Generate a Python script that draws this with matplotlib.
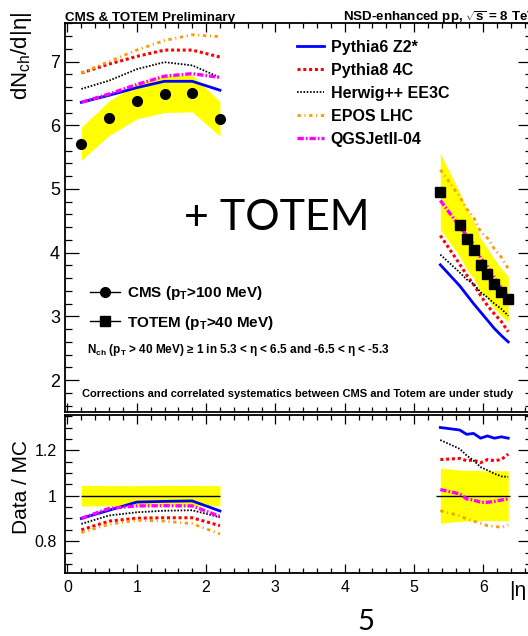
import matplotlib
matplotlib.use('Agg')
import matplotlib.pyplot as plt
from matplotlib.lines import Line2D
from matplotlib.ticker import MultipleLocator, FuncFormatter

plt.rcParams['font.family'] = ['Liberation Sans', 'DejaVu Sans']
plt.rcParams['mathtext.fontset'] = 'custom'
plt.rcParams['mathtext.rm'] = 'Liberation Sans'
plt.rcParams['mathtext.it'] = 'Liberation Sans:italic'
plt.rcParams['mathtext.bf'] = 'Liberation Sans:bold'

BOLD = ['Liberation Sans Narrow', 'Liberation Sans', 'DejaVu Sans']

# CMS central region (|eta| < 2.2)
eta_cms = [0.2, 0.6, 1.0, 1.4, 1.8, 2.2]
cms = [5.71, 6.11, 6.38, 6.49, 6.50, 6.10]
cms_sys = [0.26, 0.27, 0.28, 0.29, 0.29, 0.27]

# TOTEM T2 forward region
eta_totem = [5.38, 5.66, 5.76, 5.86, 5.96, 6.06, 6.16, 6.26, 6.36]
totem = [4.96, 4.44, 4.21, 4.05, 3.81, 3.67, 3.51, 3.38, 3.27]
totem_sys = [0.60, 0.50, 0.47, 0.45, 0.42, 0.40, 0.39, 0.37, 0.36]

# generator predictions, central
py6_cms = [6.36, 6.47, 6.59, 6.69, 6.69, 6.55]
py8_cms = [6.82, 6.96, 7.08, 7.18, 7.18, 7.07]
hw_cms = [6.57, 6.70, 6.88, 6.99, 6.94, 6.75]
epos_cms = [6.82, 7.00, 7.18, 7.33, 7.42, 7.39]
qgs_cms = [6.36, 6.49, 6.64, 6.77, 6.81, 6.75]

# generator predictions, forward
py6_totem = [3.81, 3.48, 3.34, 3.20, 3.07, 2.94, 2.81, 2.70, 2.60]
py8_totem = [4.27, 3.82, 3.65, 3.50, 3.33, 3.17, 3.04, 2.92, 2.76]
hw_totem = [3.97, 3.69, 3.58, 3.51, 3.38, 3.30, 3.20, 3.12, 3.01]
epos_totem = [5.30, 4.88, 4.69, 4.56, 4.33, 4.23, 4.06, 3.93, 3.75]
qgs_totem = [4.82, 4.41, 4.27, 4.13, 3.92, 3.78, 3.60, 3.45, 3.31]

# data / MC
py6_r_cms = [0.900, 0.936, 0.972, 0.975, 0.977, 0.933]
py8_r_cms = [0.850, 0.888, 0.901, 0.903, 0.903, 0.868]
hw_r_cms = [0.876, 0.913, 0.927, 0.934, 0.936, 0.905]
epos_r_cms = [0.838, 0.874, 0.892, 0.888, 0.877, 0.832]
qgs_r_cms = [0.900, 0.944, 0.955, 0.956, 0.955, 0.909]

py6_r_totem = [1.300, 1.289, 1.270, 1.274, 1.253, 1.263, 1.253, 1.259, 1.253]
py8_r_totem = [1.159, 1.164, 1.154, 1.157, 1.145, 1.159, 1.154, 1.159, 1.183]
hw_r_totem = [1.245, 1.206, 1.177, 1.155, 1.126, 1.112, 1.097, 1.085, 1.083]
epos_r_totem = [0.934, 0.912, 0.898, 0.888, 0.879, 0.868, 0.865, 0.861, 0.871]
qgs_r_totem = [1.027, 1.008, 0.986, 0.981, 0.971, 0.971, 0.975, 0.981, 0.986]

labels = ['Pythia6 Z2*', 'Pythia8 4C', 'Herwig++ EE3C', 'EPOS LHC', 'QGSJetII-04']
styles = [
    dict(color='#0000ff', lw=2.0, ls='-'),
    dict(color='#ff0000', lw=2.2, ls=(0, (1.0, 0.9))),
    dict(color='black', lw=1.3, ls=(0, (0.9, 0.9))),
    dict(color='#ff9900', lw=2.0, ls=(0, (1.2, 1.3, 0.4, 1.3))),
    dict(color='#ff00ff', lw=2.4, ls=(0, (1.9, 0.6, 0.5, 0.6))),
]

W, H = 528, 636


def box(x0, y0, x1, y1):
    return [x0 / W, 1 - y1 / H, (x1 - x0) / W, (y1 - y0) / H]


fig = plt.figure(figsize=(W / 100, H / 100), dpi=100)
ax1 = fig.add_axes(box(65.4, 23.3, 531.8, 412))
ax2 = fig.add_axes(box(65.4, 415, 531.8, 573))

# top panel: dN/deta
ax1.fill_between(eta_cms, [c - s for c, s in zip(cms, cms_sys)],
                 [c + s for c, s in zip(cms, cms_sys)], color='#ffff00', lw=0, zorder=1)
ax1.fill_between(eta_totem, [t - s for t, s in zip(totem, totem_sys)],
                 [t + s for t, s in zip(totem, totem_sys)], color='#ffff00', lw=0, zorder=1)

mc_cms = [py6_cms, py8_cms, hw_cms, epos_cms, qgs_cms]
mc_totem = [py6_totem, py8_totem, hw_totem, epos_totem, qgs_totem]
handles = []
for lab, st, yc, yt in zip(labels, styles, mc_cms, mc_totem):
    h, = ax1.plot(eta_cms, yc, zorder=3, label=lab, **st)
    ax1.plot(eta_totem, yt, zorder=3, **st)
    handles.append(h)

ax1.plot(eta_cms, cms, 'o', color='black', ms=7, zorder=5)
ax1.plot(eta_totem, totem, 's', color='black', ms=6.5, zorder=5)

ax1.set_xlim(-0.03, 6.7)
ax1.set_ylim(1.5, 7.6)

leg1 = ax1.legend(handles=handles, loc='upper left', bbox_to_anchor=(297 / W, 1 - 40 / H),
                  bbox_transform=fig.transFigure, frameon=False, borderpad=0, borderaxespad=0,
                  handlelength=1.7, handletextpad=0.42, labelspacing=0.5,
                  prop=dict(family=BOLD, weight='bold', size=11.5))
ax1.add_artist(leg1)

data_handles = [Line2D([], [], color='black', lw=1, marker='o', ms=7),
                Line2D([], [], color='black', lw=1, marker='s', ms=6.5)]
ax1.legend(handles=data_handles,
           labels=['CMS (p$_{\\mathbf{T}}$>100 MeV)', 'TOTEM (p$_{\\mathbf{T}}$>40 MeV)'],
           loc='upper left', bbox_to_anchor=(90 / W, 1 - 284.5 / H),
           bbox_transform=fig.transFigure, frameon=False, borderpad=0, borderaxespad=0,
           handlelength=1.95, handletextpad=0.45, labelspacing=0.72, numpoints=1,
           prop=dict(family=BOLD, weight='bold', size=11))

# bottom panel: ratios
ax2.fill_between(eta_cms, [1 - s / c for c, s in zip(cms, cms_sys)],
                 [1 + s / c for c, s in zip(cms, cms_sys)], color='#ffff00', lw=0, zorder=1)
ax2.fill_between(eta_totem, [1 - s / t for t, s in zip(totem, totem_sys)],
                 [1 + s / t for t, s in zip(totem, totem_sys)], color='#ffff00', lw=0, zorder=1)
ax2.hlines(1, eta_cms[0], eta_cms[-1], color='black', lw=1, zorder=2)
ax2.hlines(1, 5.32, 6.38, color='black', lw=1, zorder=2)

r_cms = [py6_r_cms, py8_r_cms, hw_r_cms, epos_r_cms, qgs_r_cms]
r_totem = [py6_r_totem, py8_r_totem, hw_r_totem, epos_r_totem, qgs_r_totem]
for st, rc, rt in zip(styles, r_cms, r_totem):
    ax2.plot(eta_cms, rc, zorder=3, **st)
    ax2.plot(eta_totem, rt, zorder=3, **st)

ax2.set_xlim(-0.03, 6.7)
ax2.set_ylim(0.66, 1.355)

for ax in (ax1, ax2):
    ax.xaxis.set_major_locator(MultipleLocator(1))
    ax.xaxis.set_minor_locator(MultipleLocator(0.2))
    ax.tick_params(which='both', direction='in', top=True, right=True, width=0.9)
    ax.tick_params(axis='x', which='major', length=6.7, pad=5, labelsize=11.5)
    ax.tick_params(axis='x', which='minor', length=3.6)
    ax.tick_params(axis='y', which='major', length=10)
    ax.tick_params(axis='y', which='minor', length=5)
    for sp in ax.spines.values():
        sp.set_linewidth(1.3)

ax1.yaxis.set_major_locator(MultipleLocator(1))
ax1.yaxis.set_minor_locator(MultipleLocator(0.2))
ax1.tick_params(axis='x', labelbottom=False)
ax1.tick_params(axis='y', labelsize=13, pad=4)

ax2.yaxis.set_major_locator(MultipleLocator(0.2))
ax2.yaxis.set_minor_locator(MultipleLocator(0.05))
ax2.yaxis.set_major_formatter(FuncFormatter(lambda v, p: '%g' % round(v, 2)))
ax2.tick_params(axis='y', labelsize=11.5, pad=6)

# labels and annotations
fig.text(22 / W, 1 - 12 / H, 'dN$_{\\mathrm{ch}}$/d|η|', rotation=90, ha='center', va='top', fontsize=16)
fig.text(22 / W, 1 - 487 / H, 'Data / MC', rotation=90, ha='center', va='center', fontsize=15)
fig.text(509 / W, 1 - 591 / H, '|η|', ha='left', va='center', fontsize=15)

fig.text(65 / W, 1 - 20.7 / H, 'CMS & TOTEM Preliminary', family=BOLD, weight='bold',
         fontsize=9.6, va='baseline')
fig.text(343 / W, 1 - 20.7 / H, 'NSD-enhanced pp, $\\mathbf{\\sqrt{s}}$ = 8 TeV', family=BOLD,
         weight='bold', fontsize=9.6, va='baseline')

ax1.text(87 / W, 1 - 350 / H,
         'N$_{\\mathbf{ch}}$ (p$_{\\mathbf{T}}$ > 40 MeV) ≥ 1 in 5.3 < η < 6.5 and -6.5 < η < -5.3',
         transform=fig.transFigure, family=BOLD, weight='bold', fontsize=8.5, va='center')
ax1.text(82 / W, 1 - 394 / H,
         'Corrections and correlated systematics between CMS and Totem are under study',
         transform=fig.transFigure, family=BOLD, weight='bold', fontsize=8.05, va='center')

fig.text(276.5 / W, 1 - 218 / H, '+ TOTEM', family=['Lato', 'DejaVu Sans'], fontsize=31,
         ha='center', va='center')
fig.text(366 / W, 1 - 622 / H, '5', family=['Lato', 'DejaVu Sans'], fontsize=21,
         ha='center', va='center')

fig.savefig('out.png', dpi=100)
